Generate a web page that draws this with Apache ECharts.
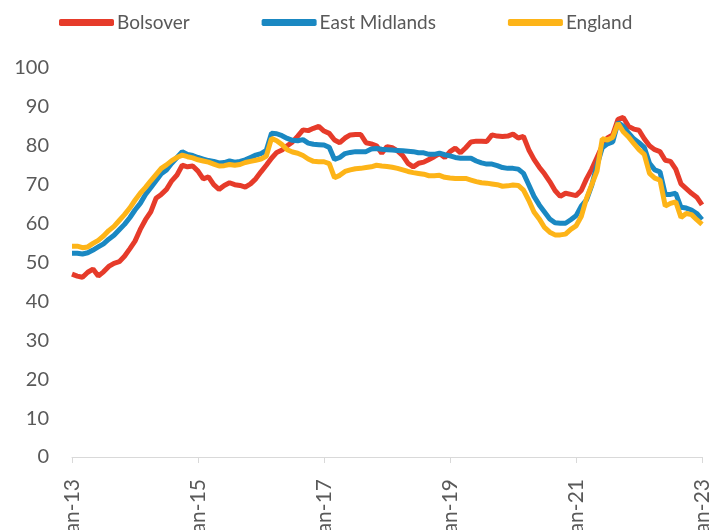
<!DOCTYPE html>
<html>
<head>
<meta charset="utf-8">
<script src="https://cdn.jsdelivr.net/npm/echarts@6/dist/echarts.min.js"></script>
<style>
  html, body { margin: 0; padding: 0; background: #fff; }
  #main { width: 724px; height: 530px; }
</style>
</head>
<body>
<div id="main"></div>
<script>
// monthly, Jan-13 .. Jan-23
var monthNames = ['Jan', 'Feb', 'Mar', 'Apr', 'May', 'Jun', 'Jul', 'Aug', 'Sep', 'Oct', 'Nov', 'Dec']
var months = []
for (var y = 13; y <= 23; y++) {
    for (var m = 0; m < 12; m++) {
        if (y === 23 && m > 0) break
        months.push(monthNames[m] + '-' + y)
    }
}

var bolsover = [
    47.0, 46.5, 46.2, 47.5, 48.3, 46.5, 47.6, 49.0, 49.8, 50.2, 51.6, 53.5,
    55.5, 58.5, 61.0, 63.0, 66.5, 67.5, 68.8, 71.0, 72.5, 75.0, 74.6, 74.8,
    73.5, 71.5, 72.0, 70.0, 68.8, 69.8, 70.5, 70.0, 69.8, 69.4, 70.2, 71.5,
    73.3, 75.0, 76.8, 78.3, 78.9, 80.0, 81.0, 82.5, 84.1, 83.9, 84.5, 85.0,
    83.8, 83.2, 81.5, 80.8, 82.0, 82.8, 82.9, 82.9, 80.8, 80.5, 80.0, 78.1,
    79.8, 79.5, 78.7, 77.5, 75.5, 74.6, 75.5, 75.8, 76.5, 77.2, 78.0, 77.0,
    78.5, 79.4, 78.2, 79.5, 81.0, 81.2, 81.2, 81.1, 82.8, 82.5, 82.4, 82.5,
    83.0, 82.0, 82.4, 79.0, 76.5, 74.5, 72.8, 70.8, 68.5, 67.0, 67.8, 67.5,
    67.2, 68.5, 71.5, 74.0, 77.0, 80.0, 82.0, 82.8, 86.8, 87.3, 85.0, 84.3,
    84.0, 81.8, 80.0, 79.0, 78.5, 76.3, 76.0, 74.0, 70.2, 69.0, 67.8, 66.8,
    64.8
]
var eastMidlands = [
    52.4, 52.4, 52.2, 52.5, 53.2, 54.0, 54.8, 56.0, 57.0, 58.4, 59.8, 61.5,
    63.5, 65.2, 67.5, 69.2, 71.0, 72.8, 73.8, 75.5, 77.0, 78.5, 77.8, 77.5,
    77.0, 76.6, 76.2, 76.0, 75.6, 75.7, 76.1, 75.8, 76.0, 76.4, 77.0, 77.6,
    78.0, 78.8, 83.2, 83.1, 82.6, 81.9, 81.4, 81.3, 81.6, 80.7, 80.4, 80.3,
    80.2, 79.6, 76.5, 77.0, 78.0, 78.3, 78.5, 78.5, 78.5, 79.2, 79.3, 79.1,
    79.0, 78.9, 78.8, 78.7, 78.6, 78.5, 78.2, 78.2, 77.8, 77.8, 78.1, 77.7,
    77.4, 77.0, 76.8, 76.8, 76.8, 76.1, 75.6, 75.3, 75.3, 74.9, 74.4, 74.2,
    74.2, 74.0, 72.9, 70.0, 67.0, 64.8, 63.0, 61.2, 60.2, 60.1, 60.1, 61.0,
    62.0, 64.5, 66.1, 69.8, 75.0, 79.5, 80.5, 81.0, 86.0, 85.0, 83.3, 81.8,
    80.8, 79.6, 75.5, 73.8, 73.3, 67.5, 67.5, 67.8, 64.2, 64.0, 63.5, 62.6,
    61.0
]
var england = [
    54.2, 54.2, 53.8, 54.0, 54.9, 55.7, 56.8, 58.2, 59.3, 60.8, 62.3, 64.0,
    66.0, 67.8, 69.3, 71.0, 72.6, 74.2, 75.1, 76.2, 77.0, 77.6, 77.2, 76.9,
    76.4, 76.1, 75.8, 75.3, 74.8, 74.9, 75.2, 75.0, 75.2, 75.7, 76.0, 76.3,
    76.6, 77.3, 81.9, 81.3, 80.3, 79.0, 78.4, 78.1, 77.5, 76.6, 76.0, 75.9,
    75.9, 75.4, 71.8, 72.4, 73.4, 73.8, 74.1, 74.2, 74.4, 74.6, 75.0, 74.8,
    74.7, 74.5, 74.2, 73.8, 73.4, 73.1, 72.9, 72.7, 72.3, 72.3, 72.4, 71.9,
    71.7, 71.6, 71.6, 71.6, 71.2, 70.8, 70.5, 70.4, 70.2, 70.0, 69.6, 69.7,
    69.9, 69.8, 68.6, 66.0, 63.0, 61.2, 59.0, 57.8, 57.1, 57.1, 57.3, 58.5,
    59.4, 61.8, 66.5, 70.0, 73.5, 81.8, 81.5, 82.2, 85.8, 83.6, 82.3, 80.6,
    79.0, 77.8, 72.9, 71.7, 71.2, 64.5, 65.2, 65.6, 61.6, 62.6, 62.3, 61.0,
    59.8
]

var myChart = echarts.init(document.getElementById('main'))
var font = 'Lato, "Open Sans", sans-serif'

var option = {
    animation: false,
    textStyle: { fontFamily: font },
    color: ['#E63B2A', '#1A88C2', '#FDB418'],
    legend: {
        top: 8,
        left: 54,
        itemWidth: 55,
        itemHeight: 7,
        itemGap: 72,
        icon: 'roundRect',
        textStyle: { fontSize: 19, color: '#595959', padding: [0, 0, 0, -2] },
        data: ['Bolsover', 'East Midlands', 'England']
    },
    grid: { left: 72, right: 22, top: 68, bottom: 73, outerBoundsMode: 'none', containLabel: false },
    xAxis: {
        type: 'category',
        boundaryGap: false,
        data: months,
        axisLine: { lineStyle: { color: '#D9D9D9', width: 1 } },
        axisTick: { interval: 23, length: 6, lineStyle: { color: '#D9D9D9' } },
        axisLabel: {
            interval: 23,
            rotate: 90,
            fontSize: 21,
            color: '#595959',
            margin: 22,
            hideOverlap: false
        }
    },
    yAxis: {
        type: 'value',
        min: 0,
        max: 100,
        interval: 10,
        axisLine: { show: false },
        axisTick: { show: false },
        splitLine: { show: false },
        axisLabel: { fontSize: 20, color: '#595959', margin: 23 }
    },
    series: [
        { name: 'Bolsover', type: 'line', data: bolsover, showSymbol: false, lineStyle: { width: 5 } },
        { name: 'East Midlands', type: 'line', data: eastMidlands, showSymbol: false, lineStyle: { width: 5 } },
        { name: 'England', type: 'line', data: england, showSymbol: false, lineStyle: { width: 5 } }
    ]
}

option && myChart.setOption(option)
</script>
</body>
</html>
